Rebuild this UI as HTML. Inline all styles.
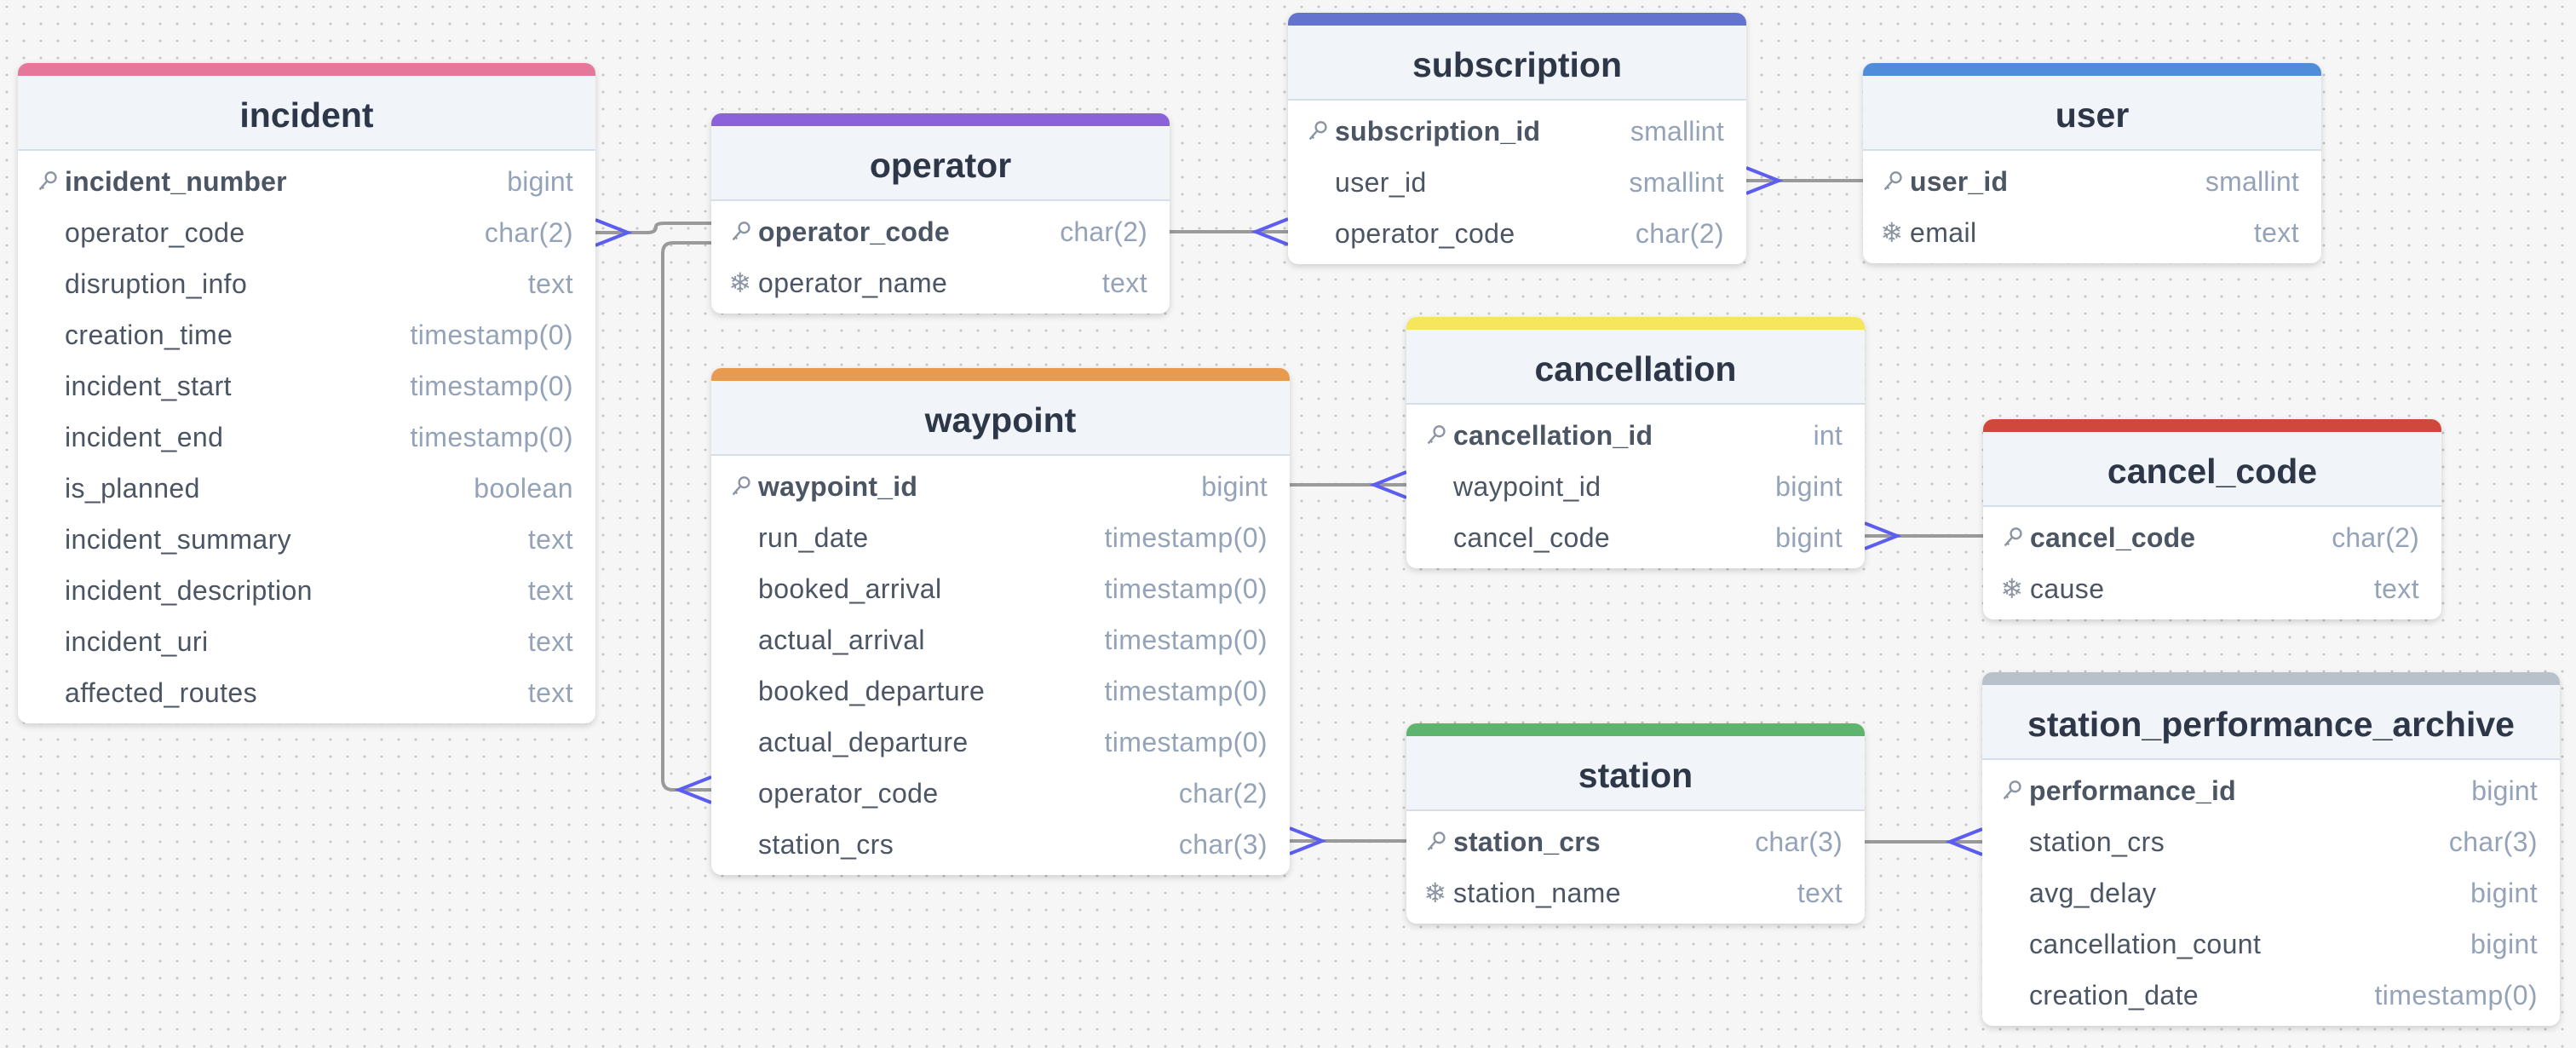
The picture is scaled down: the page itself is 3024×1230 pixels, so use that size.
<!DOCTYPE html>
<html><head><meta charset="utf-8"><style>
*{box-sizing:border-box;margin:0;padding:0}
body{width:3024px;height:1230px;overflow:hidden;background-color:#f6f6f6;background-image:radial-gradient(circle,#c4c4c4 1.3px,transparent 1.6px);background-size:20px 20px;background-position:-2px -2px;font-family:"Liberation Sans",sans-serif;position:relative}
.t{position:absolute;background:#fff;border-radius:12px;box-shadow:0 3px 8px rgba(0,0,0,.16);overflow:hidden}
.bar{height:15px}
.h{height:88px;background:#f1f4f9;border-bottom:2px solid #d5dfeb;text-align:center;line-height:92px;font-weight:bold;font-size:41px;color:#2d3748}
.b{padding:6px 0}
.r{height:60px;line-height:60px;position:relative;font-size:32px;letter-spacing:0.4px;color:#4b5563;padding-left:55px}
.r .ty{position:absolute;right:26px;top:0;color:#94a3b8}
.r.pk{font-weight:bold;letter-spacing:0.2px}
.ic{position:absolute;left:18px;top:0;width:32px;text-align:center;color:#8a94a3;font-weight:normal;font-size:32px}
svg.k{position:absolute;left:22px;top:17px}
svg#lines{position:absolute;left:0;top:0}
</style></head><body>
<svg id="lines" width="3024" height="1230">
<g stroke="#9a9a9a" stroke-width="4" fill="none">
<path d="M699 273 H760 Q770 273 770 266 Q770 262 780 262 H835"/>
<path d="M835 285 H790 Q778 285 778 297 V915 Q778 927 790 927 H835"/>
<path d="M1373 272 H1512"/>
<path d="M2050 212 H2187"/>
<path d="M1514 569 H1651"/>
<path d="M2189 629 H2328"/>
<path d="M1514 987 H1651"/>
<path d="M2189 988 H2327"/>
</g>
<g stroke="#5b5ef0" stroke-width="4" fill="none">
<path d="M699 258 L737 273 L699 288"/>
<path d="M835 912 L797 927 L835 942"/>
<path d="M1512 257 L1474 272 L1512 287"/>
<path d="M2050 197 L2088 212 L2050 227"/>
<path d="M1651 554 L1613 569 L1651 584"/>
<path d="M2189 614 L2227 629 L2189 644"/>
<path d="M1514 972 L1552 987 L1514 1002"/>
<path d="M2327 973 L2289 988 L2327 1003"/>
</g>
</svg>

<!-- incident -->
<div class="t" style="left:21px;top:74px;width:678px">
<div class="bar" style="background:#e5779a"></div><div class="h">incident</div>
<div class="b">
<div class="r pk"><svg class="k" width="26" height="26" viewBox="0 0 22 22"><circle cx="14" cy="7" r="5" fill="none" stroke="#8a94a3" stroke-width="2"/><path d="M10 11 L3 19 M5 16 L7 18" stroke="#8a94a3" stroke-width="2"/></svg>incident_number<span class="ty" style="font-weight:normal">bigint</span></div>
<div class="r">operator_code<span class="ty">char(2)</span></div>
<div class="r">disruption_info<span class="ty">text</span></div>
<div class="r">creation_time<span class="ty">timestamp(0)</span></div>
<div class="r">incident_start<span class="ty">timestamp(0)</span></div>
<div class="r">incident_end<span class="ty">timestamp(0)</span></div>
<div class="r">is_planned<span class="ty">boolean</span></div>
<div class="r">incident_summary<span class="ty">text</span></div>
<div class="r">incident_description<span class="ty">text</span></div>
<div class="r">incident_uri<span class="ty">text</span></div>
<div class="r">affected_routes<span class="ty">text</span></div>
</div></div>

<!-- operator -->
<div class="t" style="left:835px;top:133px;width:538px">
<div class="bar" style="background:#8b62d9"></div><div class="h">operator</div>
<div class="b">
<div class="r pk"><svg class="k" width="26" height="26" viewBox="0 0 22 22"><circle cx="14" cy="7" r="5" fill="none" stroke="#8a94a3" stroke-width="2"/><path d="M10 11 L3 19 M5 16 L7 18" stroke="#8a94a3" stroke-width="2"/></svg>operator_code<span class="ty" style="font-weight:normal">char(2)</span></div>
<div class="r"><span class="ic">❄</span>operator_name<span class="ty">text</span></div>
</div></div>

<!-- subscription -->
<div class="t" style="left:1512px;top:15px;width:538px">
<div class="bar" style="background:#6474cc"></div><div class="h">subscription</div>
<div class="b">
<div class="r pk"><svg class="k" width="26" height="26" viewBox="0 0 22 22"><circle cx="14" cy="7" r="5" fill="none" stroke="#8a94a3" stroke-width="2"/><path d="M10 11 L3 19 M5 16 L7 18" stroke="#8a94a3" stroke-width="2"/></svg>subscription_id<span class="ty" style="font-weight:normal">smallint</span></div>
<div class="r">user_id<span class="ty">smallint</span></div>
<div class="r">operator_code<span class="ty">char(2)</span></div>
</div></div>

<!-- user -->
<div class="t" style="left:2187px;top:74px;width:538px">
<div class="bar" style="background:#4f8cd9"></div><div class="h">user</div>
<div class="b">
<div class="r pk"><svg class="k" width="26" height="26" viewBox="0 0 22 22"><circle cx="14" cy="7" r="5" fill="none" stroke="#8a94a3" stroke-width="2"/><path d="M10 11 L3 19 M5 16 L7 18" stroke="#8a94a3" stroke-width="2"/></svg>user_id<span class="ty" style="font-weight:normal">smallint</span></div>
<div class="r"><span class="ic">❄</span>email<span class="ty">text</span></div>
</div></div>

<!-- waypoint -->
<div class="t" style="left:835px;top:432px;width:679px">
<div class="bar" style="background:#e89a4f"></div><div class="h">waypoint</div>
<div class="b">
<div class="r pk"><svg class="k" width="26" height="26" viewBox="0 0 22 22"><circle cx="14" cy="7" r="5" fill="none" stroke="#8a94a3" stroke-width="2"/><path d="M10 11 L3 19 M5 16 L7 18" stroke="#8a94a3" stroke-width="2"/></svg>waypoint_id<span class="ty" style="font-weight:normal">bigint</span></div>
<div class="r">run_date<span class="ty">timestamp(0)</span></div>
<div class="r">booked_arrival<span class="ty">timestamp(0)</span></div>
<div class="r">actual_arrival<span class="ty">timestamp(0)</span></div>
<div class="r">booked_departure<span class="ty">timestamp(0)</span></div>
<div class="r">actual_departure<span class="ty">timestamp(0)</span></div>
<div class="r">operator_code<span class="ty">char(2)</span></div>
<div class="r">station_crs<span class="ty">char(3)</span></div>
</div></div>

<!-- cancellation -->
<div class="t" style="left:1651px;top:372px;width:538px">
<div class="bar" style="background:#f5e65e"></div><div class="h">cancellation</div>
<div class="b">
<div class="r pk"><svg class="k" width="26" height="26" viewBox="0 0 22 22"><circle cx="14" cy="7" r="5" fill="none" stroke="#8a94a3" stroke-width="2"/><path d="M10 11 L3 19 M5 16 L7 18" stroke="#8a94a3" stroke-width="2"/></svg>cancellation_id<span class="ty" style="font-weight:normal">int</span></div>
<div class="r">waypoint_id<span class="ty">bigint</span></div>
<div class="r">cancel_code<span class="ty">bigint</span></div>
</div></div>

<!-- cancel_code -->
<div class="t" style="left:2328px;top:492px;width:538px">
<div class="bar" style="background:#d0473b"></div><div class="h">cancel_code</div>
<div class="b">
<div class="r pk"><svg class="k" width="26" height="26" viewBox="0 0 22 22"><circle cx="14" cy="7" r="5" fill="none" stroke="#8a94a3" stroke-width="2"/><path d="M10 11 L3 19 M5 16 L7 18" stroke="#8a94a3" stroke-width="2"/></svg>cancel_code<span class="ty" style="font-weight:normal">char(2)</span></div>
<div class="r"><span class="ic">❄</span>cause<span class="ty">text</span></div>
</div></div>

<!-- station -->
<div class="t" style="left:1651px;top:849px;width:538px">
<div class="bar" style="background:#5db46e"></div><div class="h">station</div>
<div class="b">
<div class="r pk"><svg class="k" width="26" height="26" viewBox="0 0 22 22"><circle cx="14" cy="7" r="5" fill="none" stroke="#8a94a3" stroke-width="2"/><path d="M10 11 L3 19 M5 16 L7 18" stroke="#8a94a3" stroke-width="2"/></svg>station_crs<span class="ty" style="font-weight:normal">char(3)</span></div>
<div class="r"><span class="ic">❄</span>station_name<span class="ty">text</span></div>
</div></div>

<!-- station_performance_archive -->
<div class="t" style="left:2327px;top:789px;width:678px">
<div class="bar" style="background:#b8c0ca"></div><div class="h">station_performance_archive</div>
<div class="b">
<div class="r pk"><svg class="k" width="26" height="26" viewBox="0 0 22 22"><circle cx="14" cy="7" r="5" fill="none" stroke="#8a94a3" stroke-width="2"/><path d="M10 11 L3 19 M5 16 L7 18" stroke="#8a94a3" stroke-width="2"/></svg>performance_id<span class="ty" style="font-weight:normal">bigint</span></div>
<div class="r">station_crs<span class="ty">char(3)</span></div>
<div class="r">avg_delay<span class="ty">bigint</span></div>
<div class="r">cancellation_count<span class="ty">bigint</span></div>
<div class="r">creation_date<span class="ty">timestamp(0)</span></div>
</div></div>
</body></html>
